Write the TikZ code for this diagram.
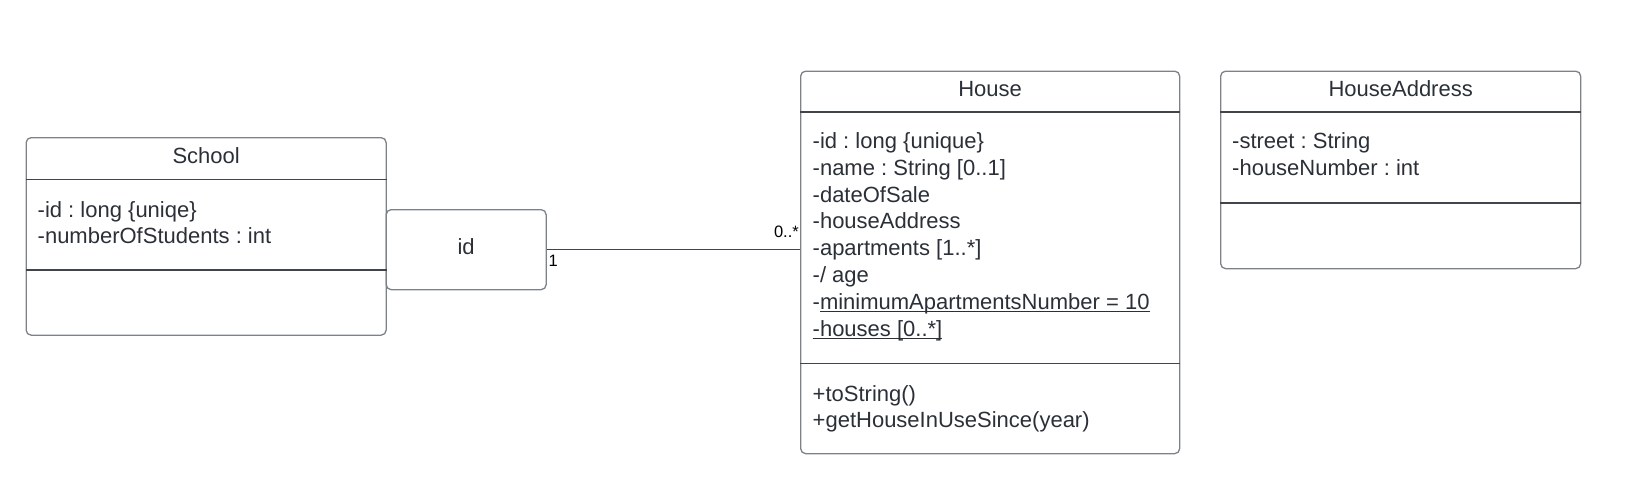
\documentclass[tikz,border=0pt]{standalone}
\usepackage{fontspec}
\setmainfont{Liberation Sans}
\newcommand{\ulin}[1]{\setbox0\hbox{#1}\rlap{\vrule height -2pt depth 3.1pt width \wd0}\box0}
\frenchspacing
\usetikzlibrary{calc}
\definecolor{boxgray}{HTML}{7D8288}
\definecolor{linegray}{HTML}{40454B}
\definecolor{textgray}{HTML}{2B3038}

\begin{document}
\begin{tikzpicture}[x=1pt, y=-1pt,
    classbox/.style={draw=boxgray, line width=1.3pt, rounded corners=5pt,
      anchor=north west, inner sep=0pt},
    sepline/.style={draw=linegray, line width=1.3pt},
    member/.style={anchor=base west, inner sep=0pt, text=textgray,
      font=\fontsize{22}{26}\selectfont},
    title/.style={anchor=base, inner sep=0pt, text=textgray,
      font=\fontsize{22}{26}\selectfont},
    mult/.style={inner sep=0pt, text=black, font=\fontsize{16.5}{20}\selectfont}]
  \useasboundingbox (0,0) rectangle (1625,498);

  % class boxes
  \node[classbox, minimum width=360, minimum height=197.5] (school) at (25.5,137) {};
  \node[classbox, minimum width=160, minimum height=80, fill=white, text=textgray,
    text depth=5.4pt, font=\fontsize{22}{26}\selectfont] (id) at (385.5,209) {id};
  \node[classbox, minimum width=379, minimum height=382.5] (house) at (800,70.5) {};
  \node[classbox, minimum width=360, minimum height=197.5] (address) at (1220,70.5) {};

  % compartments
  \draw[sepline] ($(school.north west)+(0,42.5)$) -- ($(school.north east)+(0,42.5)$);
  \draw[sepline] ($(school.north west)+(0,133)$) -- ($(school.north east)+(0,133)$);
  \draw[sepline] ($(house.north west)+(0,41.5)$) -- ($(house.north east)+(0,41.5)$);
  \draw[sepline] ($(house.north west)+(0,293)$) -- ($(house.north east)+(0,293)$);
  \draw[sepline] ($(address.north west)+(0,41.5)$) -- ($(address.north east)+(0,41.5)$);
  \draw[sepline] ($(address.north west)+(0,132.5)$) -- ($(address.north east)+(0,132.5)$);

  % titles
  \node[title] (schooltitle) at ($(school.north)+(0,26)$) {School};
  \node[title] (housetitle) at ($(house.north)+(0,26)$) {House};
  \node[title] (addresstitle) at ($(address.north)+(0,26)$) {HouseAddress};

  % attributes and operations
  \foreach \t [count=\i from 0] in {{-id : long \{uniqe\}}, -numberOfStudents : int}
    \node[member] (schoolattr\i) at ($(school.north west)+(12,80+26.5*\i)$) {\t};
  \foreach \t [count=\i from 0] in {{-id : long \{unique\}}, {-name : String [0..1]},
      -dateOfSale, -houseAddress, {-apartments [1..*]}, -/ age,
      {-\ulin{minimumApartmentsNumber = 10}}, {\ulin{-houses [0..*]}}}
    \node[member] (houseattr\i) at ($(house.north west)+(12.5,78+26.8*\i)$) {\t};
  \foreach \t [count=\i from 0] in {+toString(), +getHouseInUseSince(year)}
    \node[member] (houseop\i) at ($(house.north west)+(12.5,330.5+26*\i)$) {\t};
  \foreach \t [count=\i from 0] in {-street : String, -houseNumber : int}
    \node[member] (addressattr\i) at ($(address.north west)+(12,78+26.5*\i)$) {\t};

  % association
  \coordinate (hw) at (id.east -| house.west);
  \draw[sepline] (id.east) -- (hw);
  \node[mult, anchor=north west] (multid) at ($(id.east)+(1.5,5.5)$) {1};
  \node[mult, anchor=base east] (multhouse) at ($(hw)+(-1,-12.5)$) {0..*};
\end{tikzpicture}
\end{document}
